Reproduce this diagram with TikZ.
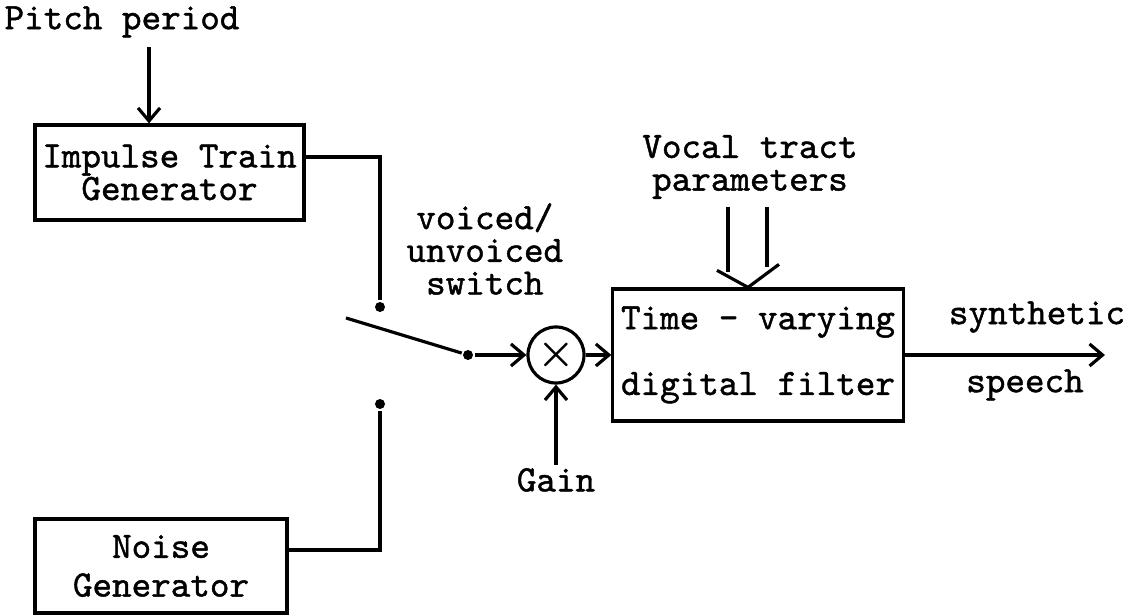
\documentclass[tikz,border=0pt]{standalone}
\usepackage{fontspec}
\setmonofont{Latin Modern Mono}[FakeBold=1.2]
\usetikzlibrary{arrows.meta, positioning}

\begin{document}
\begin{tikzpicture}[
    x=0.01cm, y=-0.01cm,
    line width=0.9pt,
    font=\ttfamily\fontsize{10.6}{9.3}\selectfont,
    blockbox/.style={rectangle, draw, inner sep=0pt, align=center},
    mixer/.style={circle, draw, inner sep=0pt, minimum size=0.56cm},
    contact/.style={circle, fill, inner sep=0pt, minimum size=0.1cm},
    txt/.style={inner sep=0pt, align=center},
    arr/.style={-{Straight Barb[length=0.13cm,width=0.22cm]}}
]
    \useasboundingbox (0,0) rectangle (1129,616);

    % blocks
    \node[blockbox, minimum width=2.69cm, minimum height=0.95cm] (impulse) at (169.5,172.5) {Impulse Train\\Generator};
    \node[blockbox, minimum width=2.52cm, minimum height=0.94cm] (noise) at (161,566) {Noise\\[0.06cm]Generator};
    \node[blockbox, minimum width=2.90cm, minimum height=1.32cm] (filter) at (758,355) {Time - varying\\[0.33cm]digital filter};
    \node[mixer, font=\fontsize{11.5}{11.5}\selectfont\boldmath] (mult) at (556,355) {$\times$};

    % switch
    \node[contact] (ton) at (380,307) {};
    \node[contact] (bon) at (380,404) {};
    \node[contact] (pivot) at (468,355) {};
    \coordinate (lever) at (346,318);

    % texts
    \node[txt] (pitch) at (122,22) {Pitch period};
    \node[txt] (vocal) at (750,167) {Vocal tract\\parameters};
    \node[txt, anchor=west] (vuv) at (405,249) {voiced/\\unvoiced\\switch};
    \node[txt] (gain) at (556,480) {Gain};
    \node[txt] (synth) at (1037,317) {synthetic};
    \node[txt] (speech) at (1025,385) {speech};
    \coordinate (out) at (1105,355);
    \coordinate (vtL) at (728,207);
    \coordinate (vtR) at (767,207);

    % connections
    \draw[arr] ([xshift=0.27cm]pitch.south) ++(0,8) -- ([xshift=0.27cm]pitch.south |- impulse.north);
    \draw ([yshift=0.155cm]impulse.east) -| (ton);
    \draw ([yshift=0.16cm]noise.east) -| (bon);
    \draw (lever) -- (pivot);
    \draw[arr] (pivot) -- (mult);
    \draw[arr] (mult) -- (filter.west |- mult);
    \draw[arr] (filter.east |- mult) -- (out);
    \draw[arr] (gain.north) ++(0,-2) -- (mult.south);

    % vocal tract inputs
    \draw (vtL) -- ++(0,65);
    \draw (vtR) -- ++(0,60);
    \draw ([xshift=-0.1cm]filter.north) ++(-31,-17) -- ([xshift=-0.1cm]filter.north) -- ++(31,-23);
\end{tikzpicture}
\end{document}
